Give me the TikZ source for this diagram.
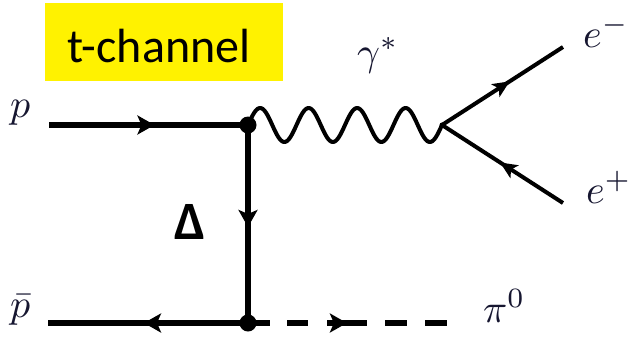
\documentclass[tikz,border=0pt]{standalone}
\usepackage{fontspec}
\newfontfamily\calibri{Carlito}
\usetikzlibrary{arrows.meta,decorations.markings}
\definecolor{labelcol}{RGB}{22,22,48}
\newcommand\biglabel[1]{\scalebox{4}{\fontsize{10}{12}\selectfont$#1$}}
\tikzset{
  fermionline/.style={line width=6.5pt, postaction={decorate, decoration={markings,
      mark=at position #1 with {\arrow{Stealth[length=17pt,width=19pt,inset=4pt]}}}}},
  leptonline/.style={line width=4pt, postaction={decorate, decoration={markings,
      mark=at position #1 with {\arrow{Stealth[length=17pt,width=15pt,inset=4pt]}}}}},
  photonline/.style={line width=4pt, line join=round, line cap=round},
  scalarline/.style={line width=6.5pt,
      dash pattern=on 22pt off 17pt on 21pt off 19pt on 40pt off 18pt on 22pt off 18pt on 22pt,
      postaction={decorate, decoration={markings,
      mark=at position #1 with {\arrow{Stealth[length=17pt,width=19pt,inset=4pt]}}}}},
  vertexdot/.style={fill=black},
  mathlabel/.style={anchor=base west, inner sep=0pt, text=labelcol},
}
\begin{document}
\begin{tikzpicture}[x=1pt, y=-1pt]
  \useasboundingbox (0,0) rectangle (629,338);

  % title banner
  \fill[yellow] (45,3) rectangle (283,81);
  \node[anchor=base west, inner sep=0pt, font=\calibri\fontsize{48}{58}\selectfont] (title) at (67,62) {t-channel};

  % end points and vertices
  \coordinate (pin)  at (49,125);
  \coordinate (pbin) at (48,323);
  \coordinate (v1)   at (248,125);
  \coordinate (v2)   at (248,323);
  \coordinate (v3)   at (442,125);
  \coordinate (em)   at (563,47);
  \coordinate (ep)   at (563,203);
  \coordinate (pi)   at (447,323);

  % propagators
  \draw[fermionline=0.53] (pin) -- (v1);
  \draw[fermionline=0.515] (v1) -- (v2);
  \draw[fermionline=0.52] (v2) -- (pbin);
  \draw[scalarline=0.497] (v2) -- (pi);
  % virtual photon: four full sine periods from v1 (248,125) to v3 (442,125)
  \draw[photonline] (v1) -- plot[domain=0:1, samples=160, smooth]
    ({248+194*\x}, {125-17*sin(\x*1440)}) -- (v3);
  \draw[leptonline=0.56] (v3) -- (em);
  \draw[leptonline=0.52] (ep) -- (v3);

  \fill[vertexdot] (v1) circle[radius=8.5pt];
  \fill[vertexdot] (v2) circle[radius=8.5pt];
  \fill[vertexdot] (v3) circle[radius=2.5pt];

  % labels
  \node[mathlabel] (lp)  at (10,117) {\biglabel{p}};
  \node[mathlabel] (lpb) at (10,317) {\biglabel{\bar p}};
  \node[mathlabel] (lg)  at (357,65) {\biglabel{\gamma^*}};
  \node[mathlabel] (lem) at (583,47) {\biglabel{e^-}};
  \node[mathlabel] (lep) at (586,203) {\biglabel{e^+}};
  \node[mathlabel] (lpi) at (483,322) {\biglabel{\pi^0}};
  \node[inner sep=0pt, font=\calibri\bfseries\fontsize{54}{60}\selectfont] (ldelta) at (190,222) {Δ};
\end{tikzpicture}
\end{document}
